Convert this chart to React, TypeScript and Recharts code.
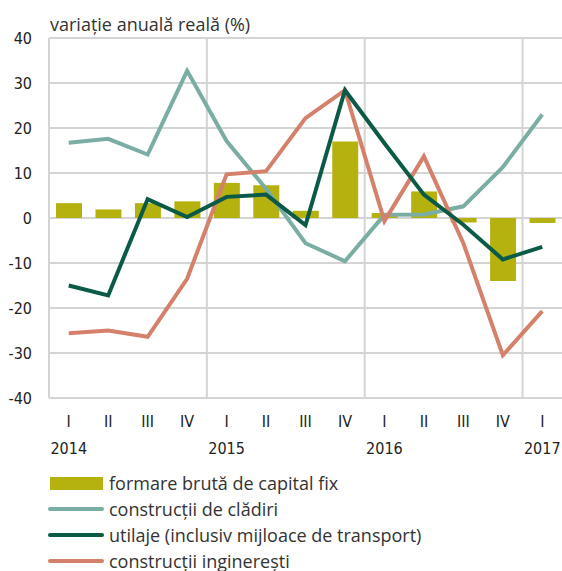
import React from 'react';
import { ComposedChart, Bar, Line, XAxis, YAxis, CartesianGrid, ReferenceLine } from 'recharts';

const quarters = ['I', 'II', 'III', 'IV', 'I', 'II', 'III', 'IV', 'I', 'II', 'III', 'IV', 'I'];
const years = ['2014', '', '', '', '2015', '', '', '', '2016', '', '', '', '2017'];
const fbcf = [3.3, 1.9, 3.3, 3.7, 7.8, 7.3, 1.6, 17.0, 1.1, 5.9, -1.0, -14.0, -1.1];
const cladiri = [16.7, 17.6, 14.1, 32.7, 17.1, 6.5, -5.6, -9.6, 0.7, 0.8, 2.6, 11.3, 23.0];
const utilaje = [-15.0, -17.2, 4.2, 0.2, 4.7, 5.2, -1.6, 28.4, 16.6, 5.2, -1.5, -9.2, -6.4];
const inginerie = [-25.6, -25.0, -26.4, -13.5, 9.7, 10.4, 22.2, 28.4, -0.7, 13.7, -5.6, -30.5, -20.7];
const yTicks = [-40, -30, -20, -10, 0, 10, 20, 30, 40];
const yearBoundaries = [3.5, 7.5, 11.5];

const seriesNames = {
  fbcf: 'formare brută de capital fix',
  cladiri: 'construcții de clădiri',
  utilaje: 'utilaje (inclusiv mijloace de transport)',
  inginerie: 'construcții inginerești',
};

const COLORS = {
  fbcf: '#b5b20f',
  cladiri: '#7aaea4',
  utilaje: '#0b5a47',
  inginerie: '#d4806a',
  grid: '#d4d4d4',
};

const data = quarters.map((q, i) => ({
  idx: i,
  q,
  year: years[i],
  fbcf: fbcf[i],
  cladiri: cladiri[i],
  utilaje: utilaje[i],
  inginerie: inginerie[i],
}));

const narrow = "'Liberation Sans Narrow', 'DejaVu Sans Condensed', sans-serif";
const body = "'Open Sans', 'Noto Sans', sans-serif";

const XTick = (props: any) => {
  const { x, y, payload } = props;
  const i = payload.index;
  const yr = years[i];
  return (
    <g>
      <text x={x} y={y + 21} textAnchor="middle" fontFamily={narrow} fontSize={16} fill="#222">
        {payload.value}
      </text>
      {yr ? (
        <text x={x} y={y + 48} textAnchor="middle" fontFamily={narrow} fontSize={16} fill="#222">
          {yr}
        </text>
      ) : null}
    </g>
  );
};

const YTick = (props: any) => {
  const { y, payload } = props;
  return (
    <text x={32} y={y + 6} textAnchor="end" fontFamily={narrow} fontSize={16} fill="#222">
      {payload.value}
    </text>
  );
};

const legendItems = [
  { key: 'fbcf', type: 'bar' },
  { key: 'cladiri', type: 'line' },
  { key: 'utilaje', type: 'line' },
  { key: 'inginerie', type: 'line' },
];

export default function App() {
  return (
    <div style={{ position: 'absolute', left: 0, top: 0, width: 562, height: 571, overflow: 'hidden', background: '#fff' }}>
      <div
        style={{
          position: 'absolute',
          left: 50,
          top: 12,
          fontFamily: body,
          fontSize: 18,
          color: '#333',
          whiteSpace: 'nowrap',
          lineHeight: '24px',
        }}
      >
        variație anuală reală (%)
      </div>
      <ComposedChart
        width={562}
        height={571}
        data={data}
        margin={{ top: 38, right: 0, left: 0, bottom: 0 }}
        barSize={26}
      >
        <CartesianGrid vertical={false} stroke={COLORS.grid} strokeWidth={2} />
        <XAxis
          dataKey="q"
          height={173}
          tickLine={false}
          axisLine={false}
          interval={0}
          tick={<XTick />}
        />
        <XAxis xAxisId="n" type="number" dataKey="idx" domain={[-0.5, 12.5]} hide />
        <YAxis
          domain={[-40, 40]}
          ticks={yTicks}
          width={49}
          tickLine={false}
          axisLine={{ stroke: COLORS.grid, strokeWidth: 2 }}
          tick={<YTick />}
          interval={0}
        />
        {yearBoundaries.map((b) => (
          <ReferenceLine key={b} x={b} xAxisId="n" stroke={COLORS.grid} strokeWidth={2} />
        ))}
        <Bar dataKey="fbcf" fill={COLORS.fbcf} isAnimationActive={false} name={seriesNames.fbcf} />
        <Line dataKey="cladiri" stroke={COLORS.cladiri} strokeWidth={4} dot={false} isAnimationActive={false} name={seriesNames.cladiri} />
        <Line dataKey="inginerie" stroke={COLORS.inginerie} strokeWidth={4} dot={false} isAnimationActive={false} name={seriesNames.inginerie} />
        <Line dataKey="utilaje" stroke={COLORS.utilaje} strokeWidth={4} dot={false} isAnimationActive={false} name={seriesNames.utilaje} />
      </ComposedChart>
      <div style={{ position: 'absolute', left: 48, top: 470, fontFamily: body, fontSize: 18, color: '#333' }}>
        {legendItems.map((it) => (
          <div key={it.key} style={{ display: 'flex', alignItems: 'center', height: 26, whiteSpace: 'nowrap' }}>
            <div style={{ width: 56, display: 'flex', alignItems: 'center' }}>
              {it.type === 'bar' ? (
                <div style={{ marginLeft: 2, width: 53, height: 13, background: (COLORS as any)[it.key] }} />
              ) : (
                <div style={{ width: 56, height: 4, borderRadius: 2, background: (COLORS as any)[it.key] }} />
              )}
            </div>
            <span style={{ marginLeft: 5, lineHeight: '26px' }}>{(seriesNames as any)[it.key]}</span>
          </div>
        ))}
      </div>
    </div>
  );
}
